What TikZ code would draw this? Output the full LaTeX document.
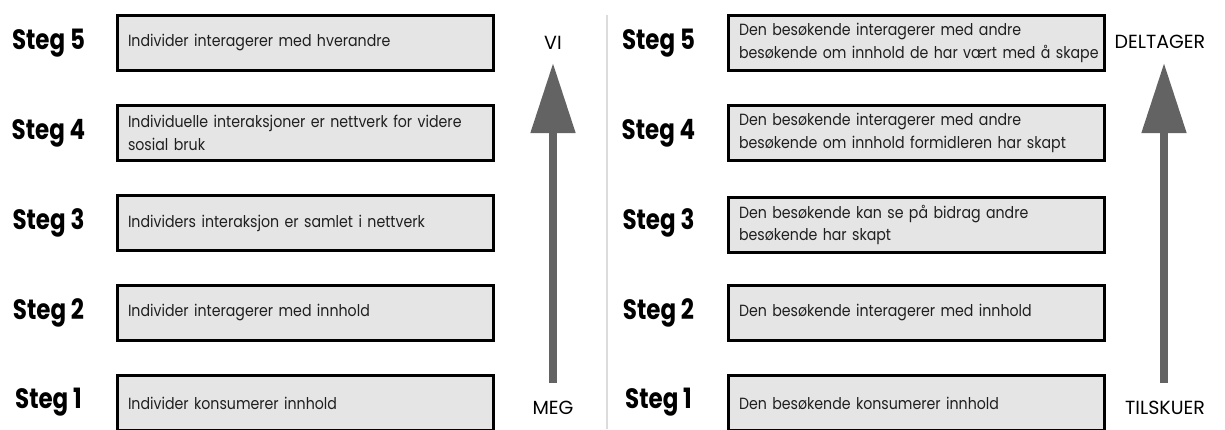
\documentclass[tikz,border=0pt]{standalone}
\usepackage{fontspec}
\setmainfont{Poppins}
\newfontfamily\bodyfont{Poppins}[FakeStretch=0.875]
\newfontfamily\stegfont{Poppins}[FakeStretch=0.82]
\usetikzlibrary{arrows.meta}

\definecolor{boxfill}{HTML}{E5E5E5}
\definecolor{arrowgray}{HTML}{636363}
\definecolor{rulegray}{HTML}{DCDCDC}
\definecolor{bodytext}{HTML}{1F1F1F}

\tikzset{
  stepbox/.style={draw=black, line width=3pt, fill=boxfill, rectangle,
    minimum width=376pt, minimum height=55pt, inner xsep=11pt, inner ysep=0pt,
    text width=354pt, align=left, text=bodytext,
    font={\bodyfont\fontsize{16.2}{22.5}\selectfont}},
  steglabel/.style={font={\stegfont\bfseries\fontsize{28}{30}\selectfont}, inner sep=0pt},
  endlabel/.style={font={\fontsize{19}{22}\selectfont}, text=black, inner sep=0pt},
  scalearrow/.style={draw=arrowgray, line width=8pt,
    -{Triangle[length=70pt 0, width=43pt 0]}},
}

\begin{document}
\begin{tikzpicture}[x=1pt, y=-1pt]
  \useasboundingbox (0,0) rectangle (1225,429);
  \clip (0,0) rectangle (1225,429);
  \fill[white] (0,0) rectangle (1225,429);

  % divider between the two ladders
  \draw[rulegray, line width=1.5pt] (607,15) -- (607,429);

  % left ladder
  \node[steglabel] (ls5) at (48.5,43)  {Steg 5};
  \node[steglabel] (ls4) at (48.5,133) {Steg 4};
  \node[steglabel] (ls3) at (48.5,223) {Steg 3};
  \node[steglabel] (ls2) at (48.5,313) {Steg 2};
  \node[steglabel] (ls1) at (48.5,402) {Steg 1};

  \node[stepbox] (lb5) at (305,43)  {Individer interagerer med hverandre};
  \node[stepbox] (lb4) at (305,133) {Individuelle interaksjoner er nettverk for videre\\sosial bruk};
  \node[stepbox] (lb3) at (305,223) {Individers interaksjon er samlet i nettverk};
  \node[stepbox] (lb2) at (305,313) {Individer interagerer med innhold};
  \node[stepbox] (lb1) at (305,403) {Individer konsumerer innhold};

  \node[endlabel] (vi)  at (553,43)  {VI};
  \node[endlabel] (meg) at (553,408) {MEG};
  \coordinate (la0) at (553,383);
  \coordinate (la1) at (553,63);
  \draw[scalearrow] (la0) -- (la1);

  % right ladder
  \node[steglabel] (rs5) at (658.5,43)  {Steg 5};
  \node[steglabel] (rs4) at (658.5,133) {Steg 4};
  \node[steglabel] (rs3) at (658.5,223) {Steg 3};
  \node[steglabel] (rs2) at (658.5,313) {Steg 2};
  \node[steglabel] (rs1) at (658.5,402) {Steg 1};

  \node[stepbox] (rb5) at (916,43)  {Den besøkende interagerer med andre\\\mbox{besøkende om innhold de har vært med å skape}};
  \node[stepbox] (rb4) at (916,133) {Den besøkende interagerer med andre\\\mbox{besøkende om innhold formidleren har skapt}};
  \node[stepbox] (rb3) at (916,225) {Den besøkende kan se på bidrag andre\\besøkende har skapt};
  \node[stepbox] (rb2) at (916,313) {Den besøkende interagerer med innhold};
  \node[stepbox] (rb1) at (916,403) {Den besøkende konsumerer innhold};

  \node[endlabel] (deltager) at (1160,42)  {DELTAGER};
  \node[endlabel] (tilskuer) at (1165,408) {TILSKUER};
  \coordinate (ra0) at (1164,383);
  \coordinate (ra1) at (1164,63);
  \draw[scalearrow] (ra0) -- (ra1);
\end{tikzpicture}
\end{document}
